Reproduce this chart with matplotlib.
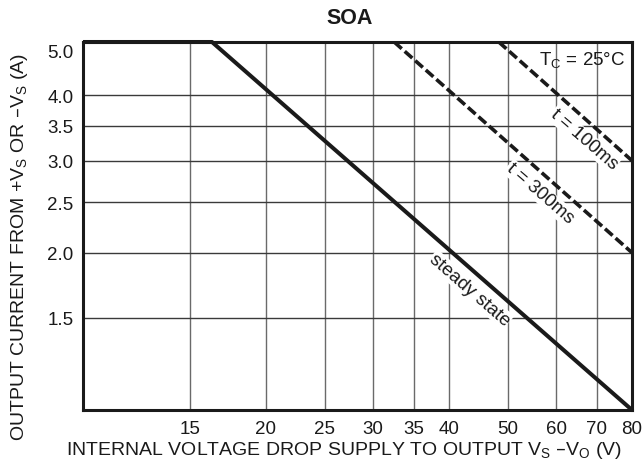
import matplotlib
matplotlib.use("Agg")
import matplotlib.pyplot as plt
import matplotlib.transforms as mtransforms
from matplotlib.ticker import FixedLocator, NullLocator

plt.rcParams['font.family'] = ['Liberation Sans', 'DejaVu Sans']

# Data
steady_v = [10, 16.3, 80]
steady_i = [5.06, 5.06, 1.0]
t300_v = [32.5, 80]
t300_i = [5.06, 2.0]
t100_v = [48.3, 80]
t100_i = [5.06, 3.0]

x_ticks = [15, 20, 25, 30, 35, 40, 50, 60, 70, 80]
x_labels = ["15", "20", "25", "30", "35", "40", "50", "60", "70", "80"]
y_ticks = [1.5, 2.0, 2.5, 3.0, 3.5, 4.0, 5.0]
y_labels = ["1.5", "2.0", "2.5", "3.0", "3.5", "4.0", "5.0"]
y_grid = [1.5, 2.0, 2.5, 3.0, 3.5, 4.0]
x_grid = [15, 20, 25, 30, 35, 40, 50, 60, 70]

fig = plt.figure(figsize=(6.44, 4.64), dpi=100)
ax = fig.add_axes([83/644, 1-411/464, (632-83)/644, (411-43)/464])
ax.set_xscale('log')
ax.set_yscale('log')
ax.set_xlim(10, 80)
ax.set_ylim(1.0, 5.06)

for xv in x_grid:
    ax.axvline(xv, color='#6a6a6a', lw=1.0, zorder=0.5)
for yv in y_grid:
    ax.axhline(yv, color='#3a3a3a', lw=1.0, zorder=0.5)

ax.plot(steady_v, steady_i, color='#1a1a1a', lw=2.9, zorder=3, clip_on=False, solid_capstyle='butt')
ax.plot(t300_v, t300_i, color='#1a1a1a', lw=2.6, ls=(0, (2.8, 1.1)), zorder=3, dash_capstyle='butt')
ax.plot(t100_v, t100_i, color='#1a1a1a', lw=2.6, ls=(0, (2.8, 1.1)), zorder=3, dash_capstyle='butt')

fs_tick = 13.5
fs = 13.5
ax.xaxis.set_major_locator(FixedLocator(x_ticks))
ax.xaxis.set_minor_locator(NullLocator())
ax.set_xticklabels(x_labels)
ax.yaxis.set_major_locator(FixedLocator(y_ticks))
ax.yaxis.set_minor_locator(NullLocator())
ax.set_yticklabels(y_labels)
ax.tick_params(axis='both', which='both', length=0, labelsize=fs_tick, colors='#1a1a1a')
ax.tick_params(axis='x', pad=7.5)
ax.tick_params(axis='y', pad=7)

# nudge the top "5.0" label slightly downward as in the reference
off = mtransforms.ScaledTranslation(0, -6/100, fig.dpi_scale_trans)
for lab in ax.get_yticklabels():
    if lab.get_text() == "5.0":
        lab.set_transform(lab.get_transform() + off)

for s in ax.spines.values():
    s.set_linewidth(2.2)
    s.set_color('#1a1a1a')

bb = dict(facecolor='white', edgecolor='none', pad=0.5)
ax.text(78.0, 4.67, r"T$_\mathregular{C}$ = 25°C", ha='right', va='center', fontsize=fs, color='#1a1a1a', zorder=2.5)
ax.text(66.7, 3.30, "t = 100ms", ha='center', va='center', rotation=-41, rotation_mode='anchor',
        fontsize=fs, color='#1a1a1a', bbox=bb, zorder=2)
ax.text(56.4, 2.60, "t = 300ms", ha='center', va='center', rotation=-41, rotation_mode='anchor',
        fontsize=fs, color='#1a1a1a', bbox=bb, zorder=2)
ax.text(43.3, 1.70, "steady state", ha='center', va='center', rotation=-41, rotation_mode='anchor',
        fontsize=fs, color='#1a1a1a', bbox=bb, zorder=2)

fig.text(350/644, 1-18/464, "SOA", ha='center', va='center', fontsize=15.5, fontweight='bold', color='#1a1a1a')
fig.text(344/644, 1-451/464, r"INTERNAL VOLTAGE DROP SUPPLY TO OUTPUT V$_\mathregular{S}$ –V$_\mathregular{O}$ (V)",
         ha='center', va='center', fontsize=14, color='#1a1a1a')
fig.text(20/644, 1-247/464, r"OUTPUT CURRENT FROM +V$_\mathregular{S}$ OR –V$_\mathregular{S}$ (A)",
         ha='center', va='center', rotation=90, fontsize=14, color='#1a1a1a')

fig.savefig("out.png", dpi=100)
